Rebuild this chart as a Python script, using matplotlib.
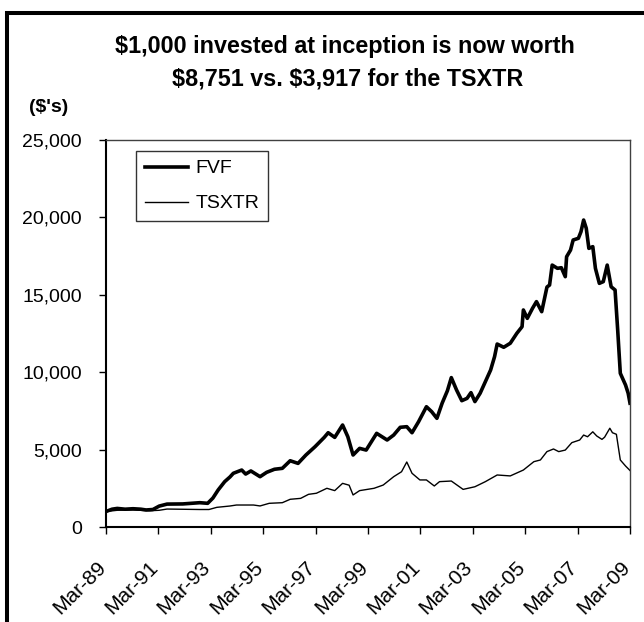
import matplotlib
matplotlib.use('Agg')
import matplotlib.pyplot as plt
from matplotlib.patches import Rectangle
from matplotlib.ticker import FuncFormatter, MultipleLocator
from matplotlib.transforms import ScaledTranslation

plt.rcParams['font.family'] = ['Liberation Sans', 'DejaVu Sans']

# values (decimal years, $ value of $1,000 invested)
fvf_years = [1989.17, 1989.4, 1989.6, 1989.9, 1990.2, 1990.5, 1990.7, 1990.96,
             1991.2, 1991.5, 1992.1, 1992.75, 1993.05, 1993.25, 1993.45, 1993.7,
             1993.9, 1994.03, 1994.35, 1994.5, 1994.7, 1995.05, 1995.3, 1995.6,
             1995.9, 1996.2, 1996.5, 1996.8, 1997.15, 1997.5, 1997.65, 1997.9,
             1998.2, 1998.4, 1998.6, 1998.85, 1999.1, 1999.5, 1999.9, 2000.15,
             2000.4, 2000.65, 2000.85, 2001.1, 2001.4, 2001.6, 2001.8, 2002.0,
             2002.2, 2002.35, 2002.55, 2002.75, 2002.95, 2003.1, 2003.25, 2003.45,
             2003.65, 2003.85, 2004.0, 2004.1, 2004.35, 2004.6, 2004.85, 2005.05,
             2005.1, 2005.25, 2005.45, 2005.6, 2005.8, 2006.0, 2006.1, 2006.2,
             2006.4, 2006.55, 2006.7, 2006.75, 2006.9, 2007.0, 2007.2, 2007.3,
             2007.4, 2007.5, 2007.6, 2007.75, 2007.85, 2008.0, 2008.15, 2008.3,
             2008.45, 2008.6, 2008.7, 2008.8, 2009.0, 2009.1, 2009.17]
fvf_values = [1000, 1150, 1200, 1150, 1180, 1150, 1100, 1130,
              1350, 1480, 1490, 1570, 1530, 1870, 2390, 2930,
              3230, 3470, 3680, 3420, 3620, 3250, 3530, 3730,
              3790, 4280, 4110, 4650, 5190, 5790, 6090, 5790,
              6590, 5830, 4650, 5080, 4970, 6050, 5620, 5940,
              6440, 6480, 6090, 6800, 7770, 7450, 7020, 8000,
              8800, 9650, 8850, 8160, 8310, 8680, 8100, 8640,
              9390, 10140, 11000, 11820, 11610, 11870, 12510, 12940,
              14020, 13480, 14130, 14560, 13910, 15500, 15630, 16920,
              16710, 16750, 16170, 17460, 17890, 18540, 18650, 19080,
              19830, 19300, 18000, 18110, 16710, 15740, 15850, 16920,
              15520, 15310, 12730, 9930, 9170, 8640, 8000]

tsx_years = [1989.17, 1989.6, 1990.2, 1990.85, 1991.2, 1991.5, 1992.75, 1993.1,
             1993.4, 1993.9, 1994.15, 1994.8, 1995.05, 1995.4, 1995.9, 1996.2,
             1996.6, 1996.9, 1997.2, 1997.6, 1997.9, 1998.2, 1998.45, 1998.6,
             1998.85, 1999.4, 1999.75, 2000.15, 2000.45, 2000.65, 2000.85, 2001.15,
             2001.4, 2001.7, 2001.9, 2002.35, 2002.8, 2003.25, 2003.65, 2004.1,
             2004.6, 2005.1, 2005.5, 2005.75, 2006.0, 2006.25, 2006.45, 2006.7,
             2006.95, 2007.25, 2007.4, 2007.55, 2007.75, 2007.9, 2008.1, 2008.2,
             2008.4, 2008.5, 2008.65, 2008.8, 2009.0, 2009.17]
tsx_values = [1000, 1080, 1100, 1050, 1080, 1160, 1130, 1130,
              1270, 1356, 1420, 1420, 1360, 1530, 1570, 1790,
              1850, 2110, 2180, 2500, 2350, 2820, 2700, 2070,
              2350, 2500, 2710, 3250, 3570, 4200, 3470, 3040,
              3040, 2650, 2930, 2970, 2430, 2600, 2930, 3360,
              3300, 3680, 4220, 4330, 4870, 5040, 4870, 4970,
              5450, 5620, 5940, 5830, 6150, 5880, 5660, 5800,
              6380, 6090, 5990, 4330, 3940, 3650]

tick_labels = ['Mar-89', 'Mar-91', 'Mar-93', 'Mar-95', 'Mar-97', 'Mar-99',
               'Mar-01', 'Mar-03', 'Mar-05', 'Mar-07', 'Mar-09']
tick_years = [1989.17, 1991.17, 1993.17, 1995.17, 1997.17, 1999.17,
              2001.17, 2003.17, 2005.17, 2007.17, 2009.17]

fig = plt.figure(figsize=(6.44, 6.22), dpi=100)
ax = fig.add_axes([106/644, 1 - 527/622, 524/644, 387/622])

ax.plot(fvf_years, fvf_values, color='black', lw=2.6, label='FVF',
        solid_joinstyle='round')
ax.plot(tsx_years, tsx_values, color='black', lw=1.0, label='TSXTR')

ax.set_xlim(1989.17, 2009.17)
ax.set_ylim(0, 25000)
ax.yaxis.set_major_locator(MultipleLocator(5000))
ax.yaxis.set_major_formatter(FuncFormatter(lambda v, p: f'{int(v):,}'))
ax.set_xticks(tick_years)
ax.set_xticklabels(tick_labels, rotation=45, ha='right', va='top',
                   rotation_mode='anchor')

ax.tick_params(axis='y', direction='out', length=5, width=1, labelsize=14, pad=12.5)
ax.tick_params(axis='x', direction='out', length=5, width=1, labelsize=15, pad=17)
# nudge the slanted date labels a little to the left, as in the original
shift = ScaledTranslation(-10/100, 0, fig.dpi_scale_trans)
for lbl in ax.get_xticklabels():
    lbl.set_transform(lbl.get_transform() + shift)

for side in ['left', 'bottom']:
    ax.spines[side].set_linewidth(1.5)
    ax.spines[side].set_color('black')
for side in ['top', 'right']:
    ax.spines[side].set_linewidth(1.0)
    ax.spines[side].set_color('#404040')

leg = ax.legend(loc='upper left', bbox_to_anchor=(30/524, (527-151)/387),
                borderaxespad=0, fontsize=14, frameon=True, fancybox=False,
                handlelength=2.2, handletextpad=0.4, labelspacing=0.9,
                borderpad=0.45)
leg.get_frame().set_edgecolor('black')
leg.get_frame().set_linewidth(1.0)

# outer frame around the whole chart
fig.add_artist(Rectangle((7/644, -0.1), 1.2, 1 - 13/622 + 0.1,
                         transform=fig.transFigure, fill=False,
                         lw=2.9, ec='black'))

fig.text(345/644, 1 - 47/622, '$1,000 invested at inception is now worth',
         ha='center', va='center', fontsize=16.8, fontweight='bold')
fig.text(348/644, 1 - 79/622, r'\$8,751 vs. \$3,917 for the TSXTR',
         ha='center', va='center', fontsize=16.8, fontweight='bold')
fig.text(29/644, 1 - 107/622, "($'s)", ha='left', va='center',
         fontsize=14, fontweight='bold')

fig.savefig('out.png', dpi=100)
